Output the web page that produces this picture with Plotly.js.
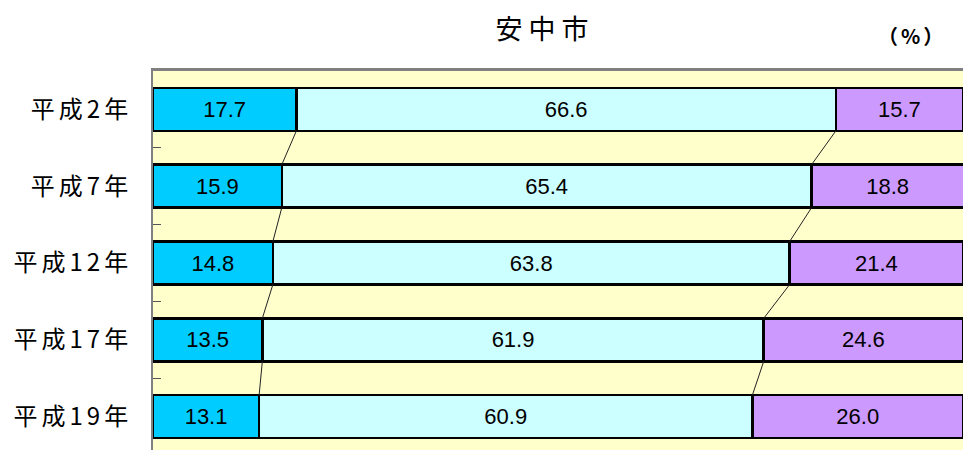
<!DOCTYPE html>
<html><head><meta charset="utf-8">
<script src="https://cdn.plot.ly/plotly-3.0.1.min.js"></script>
<style>
html,body{margin:0;padding:0;overflow:hidden;background:#fff;}
.ytick text{letter-spacing:4px;}
.gtitle{letter-spacing:6px;}
.annotation-text{letter-spacing:3px;}
</style>
</head><body>
<div id="chart" style="width:963px;height:460px;"></div>
<script>
const categories = ["平成2年","平成7年","平成12年","平成17年","平成19年"];
const young   = [17.7, 15.9, 14.8, 13.5, 13.1];
const working = [66.6, 65.4, 63.8, 61.9, 60.9];
const elderly = [15.7, 18.8, 21.4, 24.6, 26.0];
const seriesNames = ["年少人口","生産年齢人口","老年人口"];
const colors = ["#00CCFF","#CCFFFF","#CC99FF"];

const barFrac = 0.56;
const barHalf = barFrac / 2;
const barTraces = [young, working, elderly].map((vals, k) => ({
  type: 'bar', orientation: 'h', name: seriesNames[k],
  y: categories, x: vals,
  marker: {color: colors[k], line: {color: '#000', width: 2.5}},
  text: vals.map(v => v.toFixed(1)),
  textposition: 'inside', insidetextanchor: 'middle',
  textfont: {family: 'Liberation Sans Narrow, Arial Narrow, Liberation Sans, sans-serif', size: 22, color: '#000'},
  constraintext: 'none', hoverinfo: 'skip'
}));

// series connector lines between consecutive bars
const cum1 = young;
const cum2 = young.map((v, i) => v + working[i]);
function connector(cum) {
  const xs = [], ys = [];
  for (let i = 0; i < cum.length - 1; i++) {
    xs.push(cum[i], cum[i+1], null);
    ys.push(i + barHalf, i + 1 - barHalf, null);
  }
  return {type: 'scatter', mode: 'lines', x: xs, y: ys, yaxis: 'y2',
          line: {color: '#222', width: 1}, hoverinfo: 'skip', showlegend: false};
}

const data = [...barTraces, connector(cum1), connector(cum2)];
const H = 460;
const layout = {
  width: 963, height: H,
  margin: {l: 153, r: 0, t: 71, b: 5},
  paper_bgcolor: '#fff', plot_bgcolor: '#FFFFCC',
  barmode: 'stack', bargap: 1 - barFrac, showlegend: false,
  title: {text: '安中市', x: 545/963, xref: 'container', xanchor: 'center',
          y: 1 - 30/H, yref: 'container', yanchor: 'middle',
          font: {family: 'Noto Sans CJK JP', size: 27, color: '#000'}},
  xaxis: {range: [0, 100], side: 'top', showline: true, linecolor: '#808080', linewidth: 3,
          showgrid: false, zeroline: false, showticklabels: false, ticks: '', fixedrange: true},
  yaxis: {type: 'category', categoryorder: 'array', categoryarray: categories,
          range: [4.5, -0.5], showline: true, linecolor: '#808080', linewidth: 2,
          ticks: 'inside', tickson: 'boundaries', ticklen: 8, tickcolor: '#555', tickwidth: 1,
          showgrid: false, ticklabelstandoff: 14,
          tickfont: {family: 'Noto Sans CJK JP', size: 24, color: '#000'}},
  yaxis2: {overlaying: 'y', range: [4.5, -0.5], visible: false, fixedrange: true},
  annotations: [{text: '（%）', xref: 'paper', yref: 'paper', x: (912-153)/810, y: 1,
                 yshift: 36, xanchor: 'center', yanchor: 'middle', showarrow: false,
                 font: {family: 'Noto Sans CJK JP', size: 20, color: '#000', weight: 'bold'}}]
};
Plotly.newPlot('chart', data, layout, {staticPlot: true});
</script>
</body></html>
